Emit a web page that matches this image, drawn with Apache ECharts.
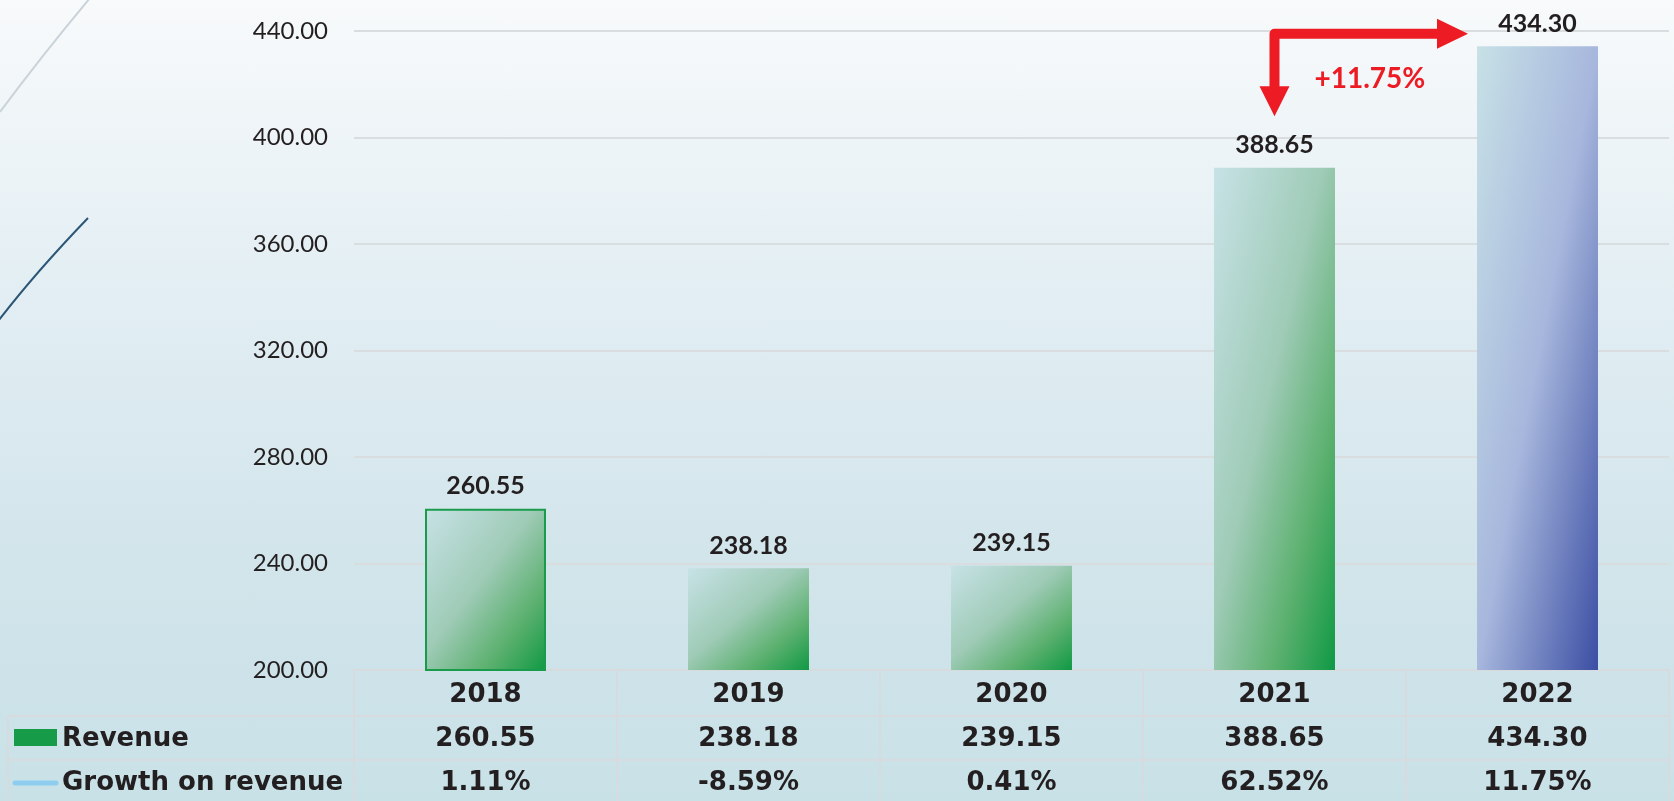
<!DOCTYPE html>
<html>
<head>
<meta charset="utf-8">
<script src="https://cdn.jsdelivr.net/npm/echarts@6/dist/echarts.min.js"></script>
<style>
  html, body { margin: 0; padding: 0; }
  #main {
    width: 1674px; height: 801px;
    background: linear-gradient(180deg, #f8fafb 0%, #e2eef3 37%, #d2e5eb 69%, #c8e1e7 100%);
  }
</style>
</head>
<body>
<div id="main"></div>
<script>
  // data
  const years = ['2018', '2019', '2020', '2021', '2022']
  const revenue = [260.55, 238.18, 239.15, 388.65, 434.30]
  const growth = [1.11, -8.59, 0.41, 62.52, 11.75]
  const rowNames = ['Revenue', 'Growth on revenue']
  // value axis
  const yMin = 200
  const yMax = 440
  const yStep = 40
  // red arrow annotation (axis values)
  const arrowTop = 439
  const arrowBottom = 408

  const numFont = 'Lato, sans-serif'
  const tabFont = '"DejaVu Sans", sans-serif'
  const ink = '#231f20'
  const red = '#ed1c24'

  const greenStops = [
    { offset: 0, color: '#c7e2e6' },
    { offset: 0.45, color: '#9fcbb7' },
    { offset: 0.75, color: '#5bb06e' },
    { offset: 1, color: '#0f9945' }
  ]
  const blueStops = [
    { offset: 0, color: '#c7e1e6' },
    { offset: 0.5, color: '#a7b7dd' },
    { offset: 1, color: '#3b4ea3' }
  ]

  const chart = echarts.init(document.getElementById('main'))

  chart.setOption({
    backgroundColor: 'transparent',
    animation: false,
    grid: { left: 354, right: 5, top: 31, bottom: 131, containLabel: false },
    xAxis: {
      type: 'category',
      data: years,
      axisLine: { show: false },
      axisTick: { show: false },
      axisLabel: {
        margin: 12,
        fontFamily: tabFont,
        fontWeight: 'bold',
        fontSize: 26,
        color: ink
      }
    },
    yAxis: {
      type: 'value',
      min: yMin,
      max: yMax,
      interval: yStep,
      axisLine: { show: false },
      axisTick: { show: false },
      axisLabel: {
        margin: 26,
        fontFamily: numFont,
        fontSize: 24,
        color: ink,
        formatter: v => v.toFixed(2)
      },
      splitLine: { lineStyle: { color: '#dadde0', width: 2 } }
    },
    series: [{
      name: 'Revenue',
      type: 'bar',
      barWidth: '46%',
      data: revenue,
      label: {
        show: true,
        position: 'top',
        distance: 10,
        fontFamily: numFont,
        fontWeight: 'bold',
        fontSize: 25,
        color: ink,
        formatter: p => p.value.toFixed(2)
      }
    }]
  })

  const px = (i, v) => chart.convertToPixel({ gridIndex: 0 }, [i, v])
  const catW = px(1, yMin)[0] - px(0, yMin)[0]
  const barW = catW * 0.46
  const gridL = px(0, yMin)[0] - catW / 2
  const gridR = gridL + catW * years.length
  const gridB = px(0, yMin)[1]

  // diagonal gradient scaled with the shape (corner to corner)
  function barColor(i) {
    const h = gridB - px(i, revenue[i])[1]
    const w = barW
    const s = h * h + w * w
    const gx = h * h / s
    const gy = w * w / s
    const stops = i === years.length - 1 ? blueStops : greenStops
    return new echarts.graphic.LinearGradient(0.5 - gx, 0.5 - gy, 0.5 + gx, 0.5 + gy, stops)
  }

  const items = revenue.map((v, i) => ({
    value: v,
    itemStyle: {
      color: barColor(i),
      borderColor: i === 0 ? '#1a9b4b' : 'transparent',
      borderWidth: i === 0 ? 2 : 0
    }
  }))

  // table under the chart
  const rowY = [gridB, 716, 760, 801]
  const lineStyle = { stroke: '#d8dbdd', lineWidth: 2 }
  const g = []
  g.push({ type: 'line', shape: { x1: gridL, y1: rowY[0], x2: gridR, y2: rowY[0] }, style: lineStyle })
  g.push({ type: 'line', shape: { x1: 8, y1: rowY[1], x2: gridR, y2: rowY[1] }, style: lineStyle })
  g.push({ type: 'line', shape: { x1: 8, y1: rowY[2], x2: gridR, y2: rowY[2] }, style: lineStyle })
  g.push({ type: 'line', shape: { x1: 8, y1: rowY[1], x2: 8, y2: rowY[3] }, style: lineStyle })
  for (let k = 0; k <= years.length; k++) {
    const x = gridL + k * catW
    g.push({ type: 'line', shape: { x1: x, y1: rowY[0], x2: x, y2: rowY[3] }, style: lineStyle })
  }
  const cellText = (x, y, text) => ({
    type: 'text', x: x, y: y,
    style: {
      text: text, align: 'center', verticalAlign: 'middle',
      font: 'bold 26px ' + tabFont, fill: ink
    }
  })
  years.forEach((yr, i) => {
    const cx = px(i, yMin)[0]
    g.push(cellText(cx, 739, revenue[i].toFixed(2)))
    g.push(cellText(cx, 783, growth[i].toFixed(2) + '%'))
  })
  // row headers with legend keys
  g.push({ type: 'rect', shape: { x: 14, y: 729, width: 43, height: 17 }, style: { fill: '#169b48' } })
  g.push({
    type: 'line', shape: { x1: 15, y1: 783, x2: 56, y2: 783 },
    style: { stroke: '#8ecdf0', lineWidth: 5, lineCap: 'round' }
  })
  g.push({
    type: 'text', x: 62, y: 739,
    style: { text: rowNames[0], verticalAlign: 'middle', font: 'bold 26px ' + tabFont, fill: ink }
  })
  g.push({
    type: 'text', x: 62, y: 783,
    style: { text: rowNames[1], verticalAlign: 'middle', font: 'bold 26px ' + tabFont, fill: ink }
  })

  // red elbow arrow from 2021 to 2022
  const ax = px(3, arrowTop)[0]
  const ay = px(3, arrowTop)[1]
  const tipY = px(3, arrowBottom)[1]
  const tipX = px(4, arrowTop)[0] - barW / 2 - 9
  g.push({
    type: 'polyline',
    shape: { points: [[ax, tipY - 29], [ax, ay], [tipX - 30, ay]] },
    style: { stroke: red, lineWidth: 10, lineJoin: 'round', fill: null }
  })
  g.push({
    type: 'polygon',
    shape: { points: [[tipX - 31, ay - 15], [tipX, ay], [tipX - 31, ay + 15]] },
    style: { fill: red }
  })
  g.push({
    type: 'polygon',
    shape: { points: [[ax - 15, tipY - 30], [ax + 15, tipY - 30], [ax, tipY]] },
    style: { fill: red }
  })
  g.push({
    type: 'text', x: ax + 40, y: (ay + tipY) / 2 + 4,
    style: {
      text: '+' + growth[4].toFixed(2) + '%', verticalAlign: 'middle',
      font: 'bold 28px ' + numFont, fill: red
    }
  })

  // decorative strokes, top left
  g.push({
    type: 'bezierCurve',
    shape: { x1: 0, y1: 112, x2: 90, y2: -2, cpx1: 40, cpy1: 58 },
    style: { stroke: '#c9d3d9', lineWidth: 2, fill: null }
  })
  g.push({
    type: 'bezierCurve',
    shape: { x1: -1, y1: 320, x2: 88, y2: 218, cpx1: 36, cpy1: 272 },
    style: { stroke: '#2c5676', lineWidth: 2, fill: null }
  })

  chart.setOption({
    series: [{ data: items }],
    graphic: g
  })
</script>
</body>
</html>
